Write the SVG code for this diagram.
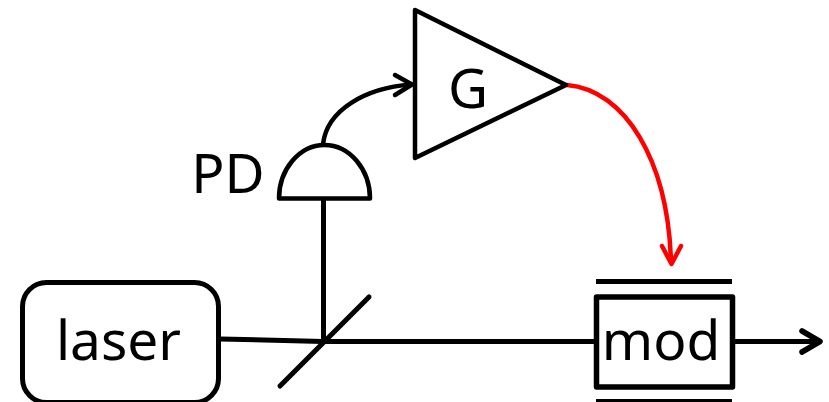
<svg xmlns="http://www.w3.org/2000/svg" width="829" height="402" viewBox="0 0 829 402">
<style>
.s{fill:none;stroke:#000;stroke-linejoin:round;stroke-linecap:round}
.n{fill:#fff;stroke:#000;stroke-linejoin:round}
.t{font-family:"Noto Sans","Open Sans",sans-serif;fill:#000;text-anchor:middle}
</style>
<rect width="829" height="402" fill="#fff"/>
<g id="connectors">
<path class="s" stroke-width="5" d="M220 339L323 341.500"/>
<path class="s" stroke-width="5" d="M323 341.500H596"/>
<path class="s" stroke-width="5" d="M323.500 199V341"/>
<path class="s" stroke-width="5" d="M733 341.500H818"/>
<path class="s" stroke-width="5.500" d="M802 331L820 341.500L802 352"/>
<path class="s" stroke-width="4.500" d="M323 144C327 110 365 88 411 84.500"/>
<path class="s" stroke-width="4.500" d="M395 75L412 84.500L395 95"/>
<path fill="none" stroke="#f00" stroke-width="4.500" stroke-linecap="round" d="M567 85C625 90 668 160 671 262"/>
<path fill="none" stroke="#f00" stroke-width="4.500" stroke-linecap="round" stroke-linejoin="round" d="M662 246L671.500 264L681 246"/>
</g>
<g id="laser">
<rect class="n" x="22.500" y="282.500" width="196" height="120" rx="24" stroke-width="5"/>
<text class="t" x="118.500" y="360" font-size="55">laser</text>
</g>
<g id="splitter">
<path class="s" stroke-width="5" d="M280 386L369 297"/>
</g>
<g id="pd">
<path class="n" stroke-width="4.500" d="M279 198.500C279 170 299 145 324.500 145C350 145 370 170 370 198.500Z"/>
<text class="t" x="228" y="193" font-size="55">PD</text>
</g>
<g id="amplifier">
<path class="n" stroke-width="4.500" d="M415 10L566 85L415 158Z"/>
<text class="t" x="468" y="108" font-size="55">G</text>
</g>
<g id="modulator">
<rect class="n" x="596.500" y="297" width="136" height="90" stroke-width="5.500"/>
<path fill="none" stroke="#000" stroke-width="5" d="M596 281.500H732"/>
<path fill="none" stroke="#000" stroke-width="3" d="M596 400.500H732"/>
<text class="t" x="661" y="360" font-size="55">mod</text>
</g>
</svg>
